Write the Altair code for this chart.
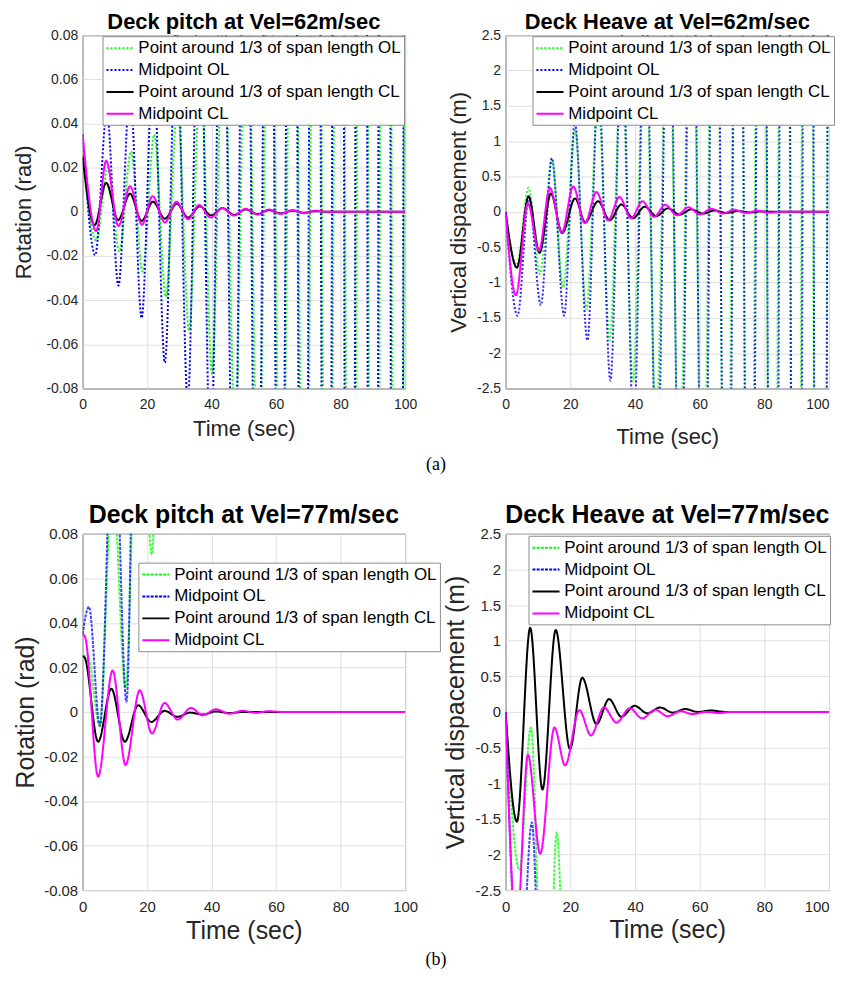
import altair as alt
import pandas as pd

SERIES = ["Point around 1/3 of span length OL", "Midpoint OL",
          "Point around 1/3 of span length CL", "Midpoint CL"]
COLORS = ["#00ff00", "#0000ff", "#000000", "#ff00ff"]

TITLES = ["Deck pitch at Vel=62m/sec", "Deck Heave at Vel=62m/sec",
          "Deck pitch at Vel=77m/sec", "Deck Heave at Vel=77m/sec"]
Y_TITLES = ["Rotation (rad)", "Vertical dispacement (m)",
            "Rotation (rad)", "Vertical dispacement (m)"]
X_TITLE = "Time (sec)"
X_TICKS = [0, 20, 40, 60, 80, 100]
PITCH_TICKS = [-0.08, -0.06, -0.04, -0.02, 0, 0.02, 0.04, 0.06, 0.08]
HEAVE_TICKS = [-2.5, -2, -1.5, -1, -0.5, 0, 0.5, 1, 1.5, 2, 2.5]
SUB_LABELS = ["(a)", "(b)"]

# ---------------- (a) pitch, 62 m/s ----------------
A_OL13_T = [0, 4.2, 7.8, 11.4, 15.0, 18.6, 22.2, 25.8, 29.4, 33.0, 36.6, 40.1, 43.7, 47.3, 50.9,
            54.5, 58.1, 61.7, 65.3, 68.9, 72.5, 76.1, 79.7, 83.3, 86.9, 90.5, 94.1, 97.7, 100]
A_OL13_V = [0.025, -0.013, 0.020, -0.018, 0.0274, -0.027, 0.035, -0.0385, 0.048, -0.0537, 0.066,
            -0.0732, 0.09, -0.10, 0.125, -0.14, 0.17, -0.19, 0.235, -0.26, 0.32, -0.36, 0.44,
            -0.50, 0.60, -0.68, 0.83, -0.94, 0.3]
A_OLM_T = [0, 3.9, 7.5, 11.1, 14.7, 18.3, 21.9, 25.5, 29.1, 32.6, 36.2, 39.7, 43.3, 46.9, 50.5,
           54.1, 57.7, 61.3, 64.9, 68.5, 72.1, 75.7, 79.3, 82.9, 86.5, 90.1, 93.7, 97.3, 100]
A_OLM_V = [0.035, -0.0196, 0.045, -0.0334, 0.055, -0.0481, 0.068, -0.0683, 0.085, -0.086, 0.12,
           -0.116, 0.16, -0.16, 0.22, -0.22, 0.30, -0.30, 0.41, -0.41, 0.56, -0.56, 0.76, -0.76,
           1.0, -1.0, 1.4, -1.4, 0.6]
A_CL13_T = [0, 3.7, 7.3, 11.0, 14.7, 18.3, 21.8, 25.5, 29.2, 32.7, 36.3, 39.9, 43.4, 47.0, 50.6,
            54.2, 57.8, 61.4, 65.0, 68.6, 72.2, 76, 100]
A_CL13_V = [0.025, -0.006, 0.0131, -0.0037, 0.0082, -0.0041, 0.0046, -0.0031, 0.0037, -0.0026,
            0.0025, -0.0016, 0.0017, -0.0014, 0.0011, -0.0010, 0.0008, -0.0007, 0.0005, -0.0004,
            0.0003, 0, 0]
A_CLM_T = [0, 4.2, 7.3, 11.1, 14.7, 18.4, 21.7, 25.5, 29.1, 32.7, 36.1, 39.7, 43.3, 47.0, 50.5,
           54.2, 57.8, 61.4, 65.0, 68.6, 72.2, 76, 100]
A_CLM_V = [0.035, -0.0087, 0.0232, -0.0064, 0.0116, -0.0058, 0.0071, -0.0048, 0.0046, -0.0034,
           0.0031, -0.0026, 0.0016, -0.0017, 0.0014, -0.0012, 0.0011, -0.0009, 0.0008, -0.0006,
           0.0005, 0, 0]

# ---------------- (a) heave, 62 m/s ----------------
B_OL13_T = [0, 3.5, 7.1, 10.6, 14.3, 17.8, 21.5, 25.0, 28.6, 32.2, 35.8, 39.4, 43.0, 46.6, 50.2,
            53.8, 57.4, 61.0, 64.6, 68.2, 71.8, 75.4, 79.0, 82.6, 86.2, 89.8, 93.4, 97.0, 100]
B_OL13_V = [0, -0.75, 0.34, -0.88, 0.74, -1.07, 1.15, -1.38, 1.6, -1.82, 2.2, -2.4, 2.9, -3.1,
            3.8, -4.0, 4.9, -5.2, 6.4, -6.8, 8.3, -8.8, 10.8, -11.5, 14, -15, 18, -19.5, 8]
B_OLM_T = [0, 3.7, 7.2, 10.9, 14.3, 18.1, 21.4, 25.3, 28.7, 32.4, 36.0, 39.6, 43.2, 46.8, 50.4,
           54.0, 57.6, 61.2, 64.8, 68.4, 72.0, 75.6, 79.2, 82.8, 86.4, 90.0, 93.6, 97.2, 100]
B_OLM_V = [0, -1.47, 0.2, -1.32, 0.76, -1.47, 1.26, -1.82, 1.85, -2.39, 2.5, -3.1, 3.2, -4.0,
           4.2, -5.2, 5.5, -6.8, 7.1, -8.8, 9.2, -11.5, 12, -15, 15.5, -19.5, 20, -25, 10]
B_CL13_T = [0, 3.5, 7.1, 10.5, 14.0, 17.5, 21.5, 24.6, 28.6, 32.2, 35.8, 39.4, 43.0, 46.6, 50.2,
            53.8, 57.4, 61.0, 64.6, 68.2, 71.8, 75.4, 79.0, 83.0, 100]
B_CL13_V = [0, -0.79, 0.22, -0.58, 0.26, -0.30, 0.19, -0.15, 0.15, -0.12, 0.105, -0.09, 0.073,
            -0.06, 0.05, -0.04, 0.035, -0.025, 0.02, -0.015, 0.012, -0.008, 0.006, 0, 0]
B_CLM_T = [0, 3.2, 6.9, 10.3, 13.7, 17.4, 20.9, 24.5, 28.1, 31.7, 35.2, 38.8, 42.3, 45.9, 49.4,
           53.0, 56.5, 60.1, 63.6, 67.2, 70.7, 74.3, 77.8, 81.4, 85, 100]
B_CLM_V = [0, -1.18, 0.12, -0.55, 0.34, -0.29, 0.36, -0.16, 0.28, -0.12, 0.21, -0.09, 0.15,
           -0.07, 0.10, -0.05, 0.065, -0.035, 0.045, -0.025, 0.03, -0.015, 0.015, -0.01, 0, 0]

# ---------------- (b) pitch, 77 m/s ----------------
C_OL13_T = [0, 1.5, 5.3, 9.3, 13.3, 17.4, 21.5, 25.5, 29.5, 33.5, 100]
C_OL13_V = [0.025, 0.0255, -0.006, 0.105, 0.011, 0.17, 0.0707, 0.35, 0.2, 0.5, 0.6]
C_OLM_T = [0, 1.95, 5.35, 9.6, 13.6, 17.6, 21.6, 25.6, 100]
C_OLM_V = [0.035, 0.0472, -0.0063, 0.145, 0.0045, 0.31, 0.2, 0.5, 0.6]
C_CL13_T = [0, 0.6, 4.8, 8.9, 13.1, 17.2, 21.3, 25.4, 29.4, 33.3, 37.3, 41.3, 45.5, 50, 100]
C_CL13_V = [0.025, 0.0245, -0.0134, 0.0104, -0.0134, 0.003, -0.0045, 0.0005, -0.0022, -0.0003,
            -0.0012, 0.0002, -0.0005, 0, 0]
C_CLM_T = [0, 0.8, 4.8, 9.3, 13.3, 17.7, 21.5, 25.4, 29.5, 33.6, 37.2, 41.4, 45.5, 49.6, 53.7,
           57.8, 62, 100]
C_CLM_V = [0.035, 0.0335, -0.029, 0.0186, -0.0238, 0.0097, -0.0097, 0.004, -0.0034, 0.0018,
           -0.0015, 0.0012, -0.0008, 0.0005, -0.0004, 0.0003, 0, 0]

# ---------------- (b) heave, 77 m/s ----------------
D_OL13_T = [0, 4.3, 7.8, 12.5, 15.8, 20.5, 100]
D_OL13_V = [0, -2.22, -0.22, -6.0, -1.69, -8.0, -9.0]
D_OLM_T = [0, 4.5, 8.1, 12.5, 100]
D_OLM_V = [0, -4.0, -1.55, -7.0, -9.0]
D_CL13_T = [0, 3.5, 7.6, 11.4, 15.5, 19.9, 23.7, 28.1, 32.0, 35.8, 39.9, 43.8, 47.8, 51.7, 55.5,
            59.4, 63.5, 68, 100]
D_CL13_V = [0, -1.54, 1.18, -1.09, 1.15, -0.52, 0.48, -0.17, 0.18, -0.067, 0.086, -0.02, 0.062,
            -0.01, 0.04, 0.0, 0.02, 0, 0]
D_CLM_T = [0, 3.4, 6.9, 10.7, 15.1, 18.4, 22.8, 26.4, 30.4, 34.3, 38.4, 42.2, 46.3, 50.1, 54.2,
           57.8, 62, 66, 70, 100]
D_CLM_V = [0, -3.1, -0.6, -1.99, -0.22, -0.75, 0.025, -0.33, 0.063, -0.15, 0.053, -0.09, 0.03,
           -0.06, 0.01, -0.03, 0, -0.015, 0, 0]


def make_df(pairs):
    rows = []
    for name, (ts, vs) in zip(SERIES, pairs):
        for t, v in zip(ts, vs):
            rows.append({"s": name, "t": t, "v": v})
    return pd.DataFrame(rows)


LBL = "(datum.value < 0 ? '-' : '') + format(abs(datum.value), '~g')"
INK = "#262626"


def panel(df, title, ytitle, ydom, yvals, w, h, fs, lfs, title_off, xtp, ytp,
          lx, ly, ol_dash, ol_op, right_col, sub=None, sub_y=0):
    x_align = ({"condition": {"test": "datum.value == 100", "value": "right"}, "value": "center"}
               if right_col else "center")
    xax = alt.Axis(values=X_TICKS, title=X_TITLE, titleFontSize=fs, titleFontWeight="normal",
                   titleColor=INK, titlePadding=xtp, labelFontSize=lfs, labelColor=INK,
                   labelPadding=9.5, labelFlush=False, labelOverlap=False, labelAlign=x_align,
                   grid=True, gridColor="#dfdfdf", ticks=False, domain=False, labelExpr=LBL)
    yax = alt.Axis(values=yvals, title=ytitle, titleFontSize=fs, titleFontWeight="normal",
                   titleColor=INK, titlePadding=ytp, labelFontSize=lfs, labelColor=INK,
                   labelPadding=5, labelFlush=False, labelOverlap=False, grid=True,
                   gridColor="#dfdfdf", ticks=False, domain=False, labelExpr=LBL)
    leg = alt.Legend(title=None, orient="none", legendX=lx, legendY=ly, fillColor="white",
                     strokeColor="#8c8c8c", padding=3, labelFontSize=17, labelColor="black",
                     labelFont="Liberation Sans", labelLimit=400, labelOffset=15, rowPadding=5,
                     symbolType="M-1,0L2.4,0", symbolSize=256, symbolStrokeWidth=2)
    layers = []
    for i, name in enumerate(SERIES):
        layers.append(
            alt.Chart(df).transform_filter(alt.datum.s == name)
            .mark_line(clip=True, interpolate="monotone", strokeWidth=2, strokeCap="butt",
                       strokeOpacity=ol_op if i < 2 else 1)
            .encode(
                x=alt.X("t:Q", scale=alt.Scale(domain=[0, 100], nice=False, zero=False), axis=xax),
                y=alt.Y("v:Q", scale=alt.Scale(domain=ydom, nice=False, zero=False), axis=yax),
                color=alt.Color("s:N", scale=alt.Scale(domain=SERIES, range=COLORS), legend=leg),
                strokeDash=alt.StrokeDash("s:N", scale=alt.Scale(
                    domain=SERIES, range=[ol_dash, ol_dash, [1, 0], [1, 0]]), legend=leg),
            )
        )
    if sub is not None:
        layers.append(
            alt.Chart(pd.DataFrame({"lab": [sub]})).mark_text(
                font="Liberation Serif", fontSize=18, color="black")
            .encode(text="lab:N", x=alt.value(355), y=alt.value(sub_y))
        )
    return alt.layer(*layers).properties(
        width=w, height=h,
        title=alt.Title(title, fontSize=fs, fontWeight="bold", font="Liberation Sans",
                        color="black", offset=title_off, anchor="middle"),
    )


dfA = make_df([(A_OL13_T, A_OL13_V), (A_OLM_T, A_OLM_V), (A_CL13_T, A_CL13_V), (A_CLM_T, A_CLM_V)])
dfB = make_df([(B_OL13_T, B_OL13_V), (B_OLM_T, B_OLM_V), (B_CL13_T, B_CL13_V), (B_CLM_T, B_CLM_V)])
dfC = make_df([(C_OL13_T, C_OL13_V), (C_OLM_T, C_OLM_V), (C_CL13_T, C_CL13_V), (C_CLM_T, C_CLM_V)])
dfD = make_df([(D_OL13_T, D_OL13_V), (D_OLM_T, D_OLM_V), (D_CL13_T, D_CL13_V), (D_CLM_T, D_CLM_V)])

pA = panel(dfA, TITLES[0], Y_TITLES[0], [-0.08, 0.08], PITCH_TICKS, 324, 355, 22, 14, -5.5, 6.5, 10,
           20, 1, [2, 2], 1.0, False, SUB_LABELS[0], 432)
pB = panel(dfB, TITLES[1], Y_TITLES[1], [-2.5, 2.5], HEAVE_TICKS, 325, 355, 22, 14, -5.5, 14.5, 6,
           27, 1, [2, 2], 0.85, True)
pC = panel(dfC, TITLES[2], Y_TITLES[2], [-0.08, 0.08], PITCH_TICKS, 324, 358, 25, 15, -1, 4.5, 5,
           56, 29, [3, 1.2], 0.75, False, SUB_LABELS[1], 428)
pD = panel(dfD, TITLES[3], Y_TITLES[3], [-2.5, 2.5], HEAVE_TICKS, 325, 358, 25, 15, -1, 3.5, 6,
           23, 2, [3, 1.2], 0.75, True)

chart = (
    alt.concat(pA, pB, pC, pD, columns=2, spacing={"row": 146, "column": 101})
    .resolve_scale(x="independent", y="independent", color="independent",
                   strokeDash="independent")
    .resolve_legend(color="independent", strokeDash="independent")
    .properties(bounds="flush", padding={"left": 4, "top": 0, "right": 0, "bottom": 0})
    .configure(font="Liberation Sans")
    .configure_view(stroke=INK, strokeWidth=1)
)

chart.save("out.html", embed_options={"renderer": "svg", "actions": False})
